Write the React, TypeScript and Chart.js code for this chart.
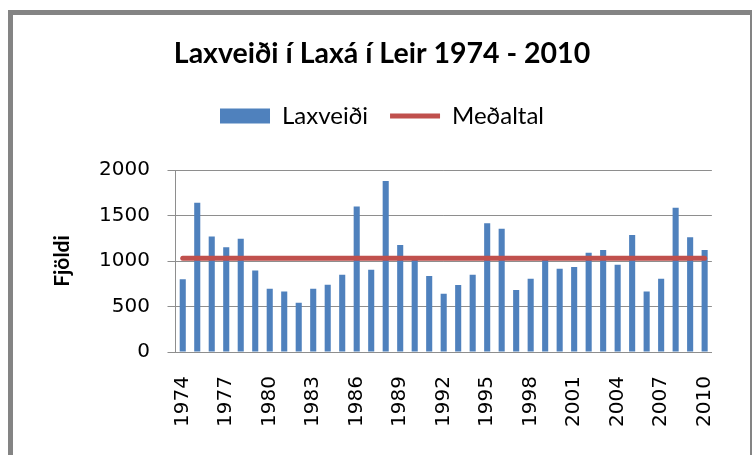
import React, { useEffect, useRef } from 'react';
import { Chart, registerables } from 'chart.js';

Chart.register(...registerables);

const years = [
  '1974', '1975', '1976', '1977', '1978', '1979', '1980', '1981', '1982', '1983',
  '1984', '1985', '1986', '1987', '1988', '1989', '1990', '1991', '1992', '1993',
  '1994', '1995', '1996', '1997', '1998', '1999', '2000', '2001', '2002', '2003',
  '2004', '2005', '2006', '2007', '2008', '2009', '2010',
];

const catches = [
  800, 1640, 1270, 1150, 1245, 895, 695, 665, 540, 695,
  740, 850, 1600, 905, 1880, 1175, 1010, 835, 640, 735,
  850, 1415, 1355, 680, 805, 1010, 915, 935, 1090, 1120,
  960, 1285, 665, 805, 1585, 1260, 1120,
];

const meanLine = [
  { x: '1974', y: 1030 },
  { x: '2010', y: 1030 },
];

const xTickLabels = ['1974', '1977', '1980', '1983', '1986', '1989', '1992', '1995', '1998', '2001', '2004', '2007', '2010'];
const yTicks = [0, 500, 1000, 1500, 2000];

const titleText = 'Laxveiði í Laxá í Leir 1974 - 2010';
const barLabel = 'Laxveiði';
const lineLabel = 'Meðaltal';
const yTitle = 'Fjöldi';

export default function App() {
  const ref = useRef<HTMLCanvasElement | null>(null);

  useEffect(() => {
    if (!ref.current) return;
    const defaultGen = (Chart.defaults.plugins.legend.labels as any).generateLabels;
    const chart = new Chart(ref.current, {
      type: 'bar',
      data: {
        labels: years,
        datasets: [
          {
            type: 'bar',
            label: barLabel,
            data: catches,
            backgroundColor: '#4F81BD',
            borderWidth: 0,
            barPercentage: 0.42,
            categoryPercentage: 1,
            order: 1,
          },
          {
            type: 'line',
            label: lineLabel,
            data: meanLine as any,
            borderColor: '#C0504D',
            backgroundColor: '#C0504D',
            borderWidth: 5,
            borderCapStyle: 'round',
            pointRadius: 0,
            pointHoverRadius: 0,
            fill: false,
            order: 0,
          } as any,
        ],
      },
      options: {
        responsive: false,
        animation: false,
        layout: { padding: { left: 38, right: 27, top: 0, bottom: 0 } },
        plugins: {
          tooltip: { enabled: false },
          title: {
            display: true,
            text: titleText,
            color: '#000',
            font: { family: 'Lato', size: 28.5, weight: 'bold', lineHeight: 1.2 },
            padding: { top: 36.9, bottom: 10.9 },
          },
          subtitle: {
            display: true,
            text: '',
            weight: 500,
            font: { size: 10, lineHeight: 1.2 },
            padding: { top: 20, bottom: 0 },
          } as any,
          legend: {
            display: true,
            position: 'top',
            labels: {
              usePointStyle: true,
              pointStyleWidth: 50,
              boxHeight: 15,
              padding: 22,
              color: '#000',
              font: { family: 'Lato', size: 24 },
              sort: (a: any, b: any) => a.datasetIndex - b.datasetIndex,
              generateLabels: (c: any) =>
                defaultGen(c).map((item: any) => ({
                  ...item,
                  pointStyle: item.datasetIndex === 0 ? 'rect' : 'line',
                })),
            },
          },
        },
        scales: {
          x: {
            type: 'category',
            offset: true,
            grid: { display: false, drawTicks: false },
            border: { display: true, color: '#8e8e8e', width: 1 },
            ticks: {
              autoSkip: false,
              minRotation: 90,
              maxRotation: 90,
              padding: 24,
              color: '#000',
              font: { family: 'DejaVu Sans', size: 20 },
              callback: (_v: any, idx: number) => (xTickLabels.includes(years[idx]) ? years[idx] : ''),
            },
            afterFit: (scale: any) => {
              scale.height = 103;
            },
          },
          y: {
            min: yTicks[0],
            max: yTicks[yTicks.length - 1],
            grid: { color: '#8e8e8e', lineWidth: 1, drawTicks: true, tickLength: 8 },
            border: { display: true, color: '#8e8e8e', width: 1 },
            ticks: {
              stepSize: 500,
              padding: 17.5,
              color: '#000',
              font: { family: 'DejaVu Sans', size: 20 },
              callback: (v: any) => String(v),
            },
            title: {
              display: true,
              text: yTitle,
              color: '#000',
              font: { family: 'Lato', size: 21, weight: 'bold', lineHeight: 1.2 },
              padding: { top: 11.4, bottom: 0 },
            },
            afterFit: (scale: any) => {
              scale.width = 137.5;
            },
          },
        },
      },
    });
    return () => chart.destroy();
  }, []);

  return (
    <div style={{ position: 'fixed', left: 0, top: 0, width: 753, height: 455, overflow: 'hidden', background: '#fff' }}>
      <div
        style={{
          position: 'absolute',
          left: 8,
          top: 10,
          width: 737,
          height: 480,
          borderLeft: '5px solid #848484',
          borderTop: '5px solid #848484',
          borderRight: '2px solid #848484',
          boxSizing: 'content-box',
        }}
      />
      <canvas ref={ref} width={753} height={455} style={{ position: 'absolute', left: 0, top: 0, display: 'block' }} />
    </div>
  );
}
